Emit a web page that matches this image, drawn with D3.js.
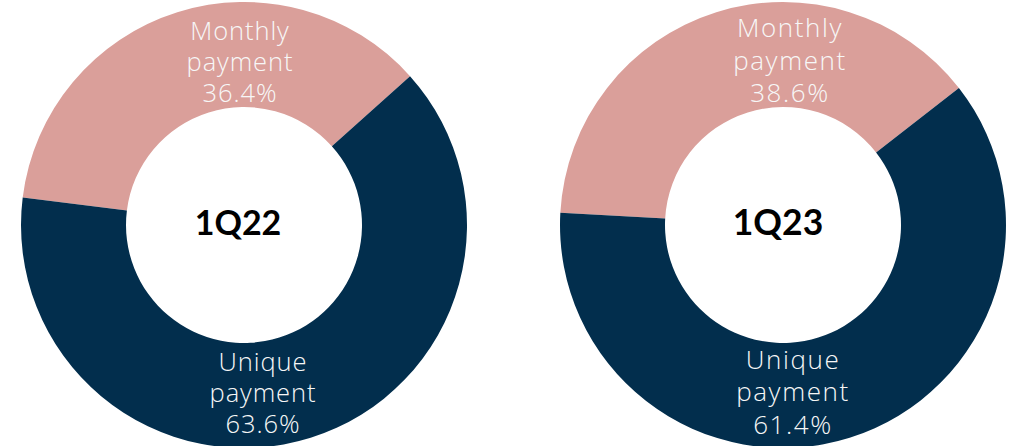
<!DOCTYPE html>
<html>
<head>
<meta charset="utf-8">
<script src="https://cdn.jsdelivr.net/npm/d3@7"></script>
<style>
  html, body { margin: 0; padding: 0; background: #ffffff; }
  svg { display: block; }
</style>
</head>
<body>
<svg id="chart" width="1015" height="446"></svg>
<script>
// Payment mix by quarter
const periods = ["1Q22", "1Q23"];
const categories = ["Monthly", "Unique"];
const categoryLines = [["Monthly", "payment"], ["Unique", "payment"]];
const monthlyShare = [36.4, 38.6];
const uniqueShare = [63.6, 61.4];

const colors = { Monthly: "#DA9F9A", Unique: "#022E4D" };

// Layout of each ring and its labels
const rings = [
  { cx: 244, cy: 225, font: 25.5, spacing: 0.9, title: 34,
    labelOffset: { Monthly: [-4, -185], Unique: [19, 146] }, titleDx: -6 },
  { cx: 783, cy: 225, font: 26, spacing: 1.6, title: 35.5,
    labelOffset: { Monthly: [7, -188], Unique: [10, 143.5] }, titleDx: -5 }
];
const outerR = 223, innerR = 118;
const lineGap = [31, 32.5];
// The monthly slice sits centred slightly left of twelve o'clock
const monthlyMidAngle = -17.4 * Math.PI / 180;

const svg = d3.select("#chart");
const arc = d3.arc().innerRadius(innerR).outerRadius(outerR);

periods.forEach((period, i) => {
  const ring = rings[i];
  const rows = categories.map((c, k) => ({
    category: c,
    lines: categoryLines[k],
    value: k === 0 ? monthlyShare[i] : uniqueShare[i]
  }));
  const total = d3.sum(rows, d => d.value);
  const start = monthlyMidAngle - Math.PI * (monthlyShare[i] / total);
  const pie = d3.pie().value(d => d.value).sort(null)
    .startAngle(start).endAngle(start + 2 * Math.PI);
  const slices = pie(rows);

  const g = svg.append("g").attr("transform", `translate(${ring.cx},${ring.cy})`);

  g.selectAll("path.slice").data(slices).join("path")
    .attr("class", "slice")
    .attr("d", arc)
    .attr("fill", d => colors[d.data.category]);

  // Category labels with their share, one text per line
  slices.forEach(s => {
    const [dx, dy] = ring.labelOffset[s.data.category];
    const lines = s.data.lines.concat([d3.format(".1f")(s.data.value) + "%"]);
    lines.forEach((ln, j) => {
      g.append("text")
        .attr("x", dx)
        .attr("y", dy + j * lineGap[i])
        .attr("text-anchor", "middle")
        .attr("font-family", "'Open Sans', 'Lato', sans-serif")
        .attr("font-weight", 300)
        .attr("font-size", ring.font)
        .attr("letter-spacing", ring.spacing)
        .attr("fill", "#F7F7F7")
        .text(ln);
    });
  });

  // Period in the hole
  g.append("text")
    .attr("x", ring.titleDx)
    .attr("y", 10)
    .attr("text-anchor", "middle")
    .attr("font-family", "'Lato', 'Open Sans', sans-serif")
    .attr("font-weight", 700)
    .attr("font-size", ring.title)
    .attr("fill", "#000000")
    .text(period);
});
</script>
</body>
</html>
